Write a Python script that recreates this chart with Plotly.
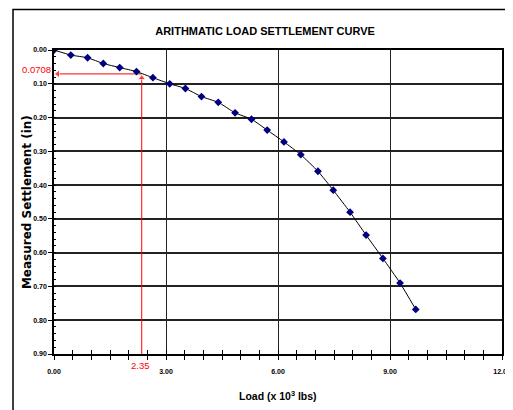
import plotly.graph_objects as go

# Data
load_kips = [0.00, 0.45, 0.90, 1.32, 1.76, 2.21, 2.65, 3.10, 3.52, 3.95, 4.40, 4.85,
             5.29, 5.71, 6.16, 6.61, 7.07, 7.48, 7.93, 8.36, 8.81, 9.27, 9.69]
settlement_in = [0.000, 0.015, 0.023, 0.040, 0.052, 0.064, 0.082, 0.100, 0.114, 0.138,
                 0.155, 0.186, 0.205, 0.237, 0.272, 0.310, 0.359, 0.415, 0.480, 0.548,
                 0.617, 0.690, 0.768]
marked_load = 2.35
marked_settlement = 0.0708

x_ticks = [0, 3, 6, 9, 12]
y_ticks = [0.0, 0.1, 0.2, 0.3, 0.4, 0.5, 0.6, 0.7, 0.8, 0.9]

SANS = "Liberation Sans, Arial, sans-serif"
Y_MAX = y_ticks[-1]

fig = go.Figure()

# red marker lines with arrowheads (drawn first, under the curve)
fig.add_trace(go.Scatter(
    x=[marked_load, 0.1], y=[marked_settlement, marked_settlement],
    mode="lines+markers", line=dict(color="red", width=1),
    marker=dict(symbol=["circle", "triangle-left"], size=[0, 7], color="red"),
    showlegend=False, hoverinfo="skip"))
fig.add_trace(go.Scatter(
    x=[marked_load, marked_load], y=[Y_MAX, marked_settlement + 0.012],
    mode="lines+markers", line=dict(color="red", width=1),
    marker=dict(symbol=["circle", "triangle-up"], size=[0, 7], color="red"),
    showlegend=False, hoverinfo="skip"))

fig.add_trace(go.Scatter(
    x=load_kips, y=settlement_in, mode="lines+markers",
    line=dict(color="black", width=1, shape="spline", smoothing=0.5),
    marker=dict(symbol="diamond", size=6, color="#000080"),
    showlegend=False, hoverinfo="x+y"))

# invisible trace on an overlaid axis, used only to draw inward ticks (crossing ticks)
fig.add_trace(go.Scatter(x=[0, 12], y=[Y_MAX, Y_MAX], xaxis="x2", mode="markers",
                         marker=dict(opacity=0), showlegend=False, hoverinfo="skip"))

fig.add_annotation(x=0, y=marked_settlement, xref="x", yref="y", xshift=-18, yshift=4,
                   xanchor="center", text=f"{marked_settlement:.4f}", showarrow=False,
                   font=dict(family=SANS, size=9.5, color="red"))
fig.add_annotation(x=marked_load, y=Y_MAX, xref="x", yref="y", yshift=-11, xshift=-1,
                   xanchor="center", text=f"{marked_load:.2f}", showarrow=False,
                   font=dict(family=SANS, size=9.5, color="red"))

# axis titles
fig.add_annotation(x=-0.06, y=0.5, xref="paper", yref="paper", textangle=-90,
                   xanchor="center", yanchor="middle",
                   text="Measured Settlement (in)", showarrow=False,
                   font=dict(family="DejaVu Sans, Verdana, sans-serif", size=12,
                             color="black", weight="bold"))
fig.add_annotation(x=0.5, y=-0.135, xref="paper", yref="paper",
                   xanchor="center", yanchor="middle",
                   text="Load (x 10<sup>3</sup> lbs)", showarrow=False,
                   font=dict(family=SANS, size=10.5, color="black", weight="bold"))

# outer frame
fig.add_shape(type="rect", xref="paper", yref="paper", x0=-0.0915, x1=1.0134,
              y0=-0.25, y1=1.133, line=dict(color="black", width=1.5),
              fillcolor="rgba(0,0,0,0)", layer="above")

# page body has an 8px default margin, so the figure is sized to fit the 513x410 window
fig.update_layout(
    width=505, height=402,
    margin=dict(l=46, r=11, t=42, b=56, autoexpand=False),
    paper_bgcolor="white", plot_bgcolor="white",
    title=dict(text="ARITHMATIC LOAD SETTLEMENT CURVE", x=0.509, xanchor="center",
               y=0.943, yanchor="middle",
               font=dict(family=SANS, size=11, color="black", weight="bold")),
    xaxis=dict(range=[0, 12], tickvals=x_ticks, ticktext=[f"{v:.2f}" for v in x_ticks],
               showgrid=True, gridcolor="#222", gridwidth=1.3,
               showline=True, linecolor="black", linewidth=1.5, mirror=True,
               ticks="outside", ticklen=4, tickcolor="black", ticklabelstandoff=6,
               minor=dict(dtick=0.5, ticks="outside", ticklen=4, tickcolor="black",
                          showgrid=False),
               tickfont=dict(family=SANS, size=7, color="black", weight="bold"),
               zeroline=False, automargin=False),
    xaxis2=dict(overlaying="x", matches="x", range=[0, 12], dtick=0.5, ticks="inside",
                ticklen=4, tickcolor="black", showticklabels=False, showgrid=False,
                zeroline=False, side="bottom", anchor="y", automargin=False),
    yaxis=dict(range=[Y_MAX, 0], tickvals=y_ticks, ticktext=[f"{v:.2f}" for v in y_ticks],
               showgrid=True, gridcolor="#222", gridwidth=1.5,
               showline=True, linecolor="black", linewidth=1.5, mirror=True,
               ticks="outside", ticklen=4, tickcolor="black",
               minor=dict(dtick=0.02, ticks="inside", ticklen=2, tickcolor="black",
                          showgrid=False),
               tickfont=dict(family=SANS, size=7, color="black", weight="bold"),
               zeroline=False, automargin=False),
)

fig.write_html("out.html")
